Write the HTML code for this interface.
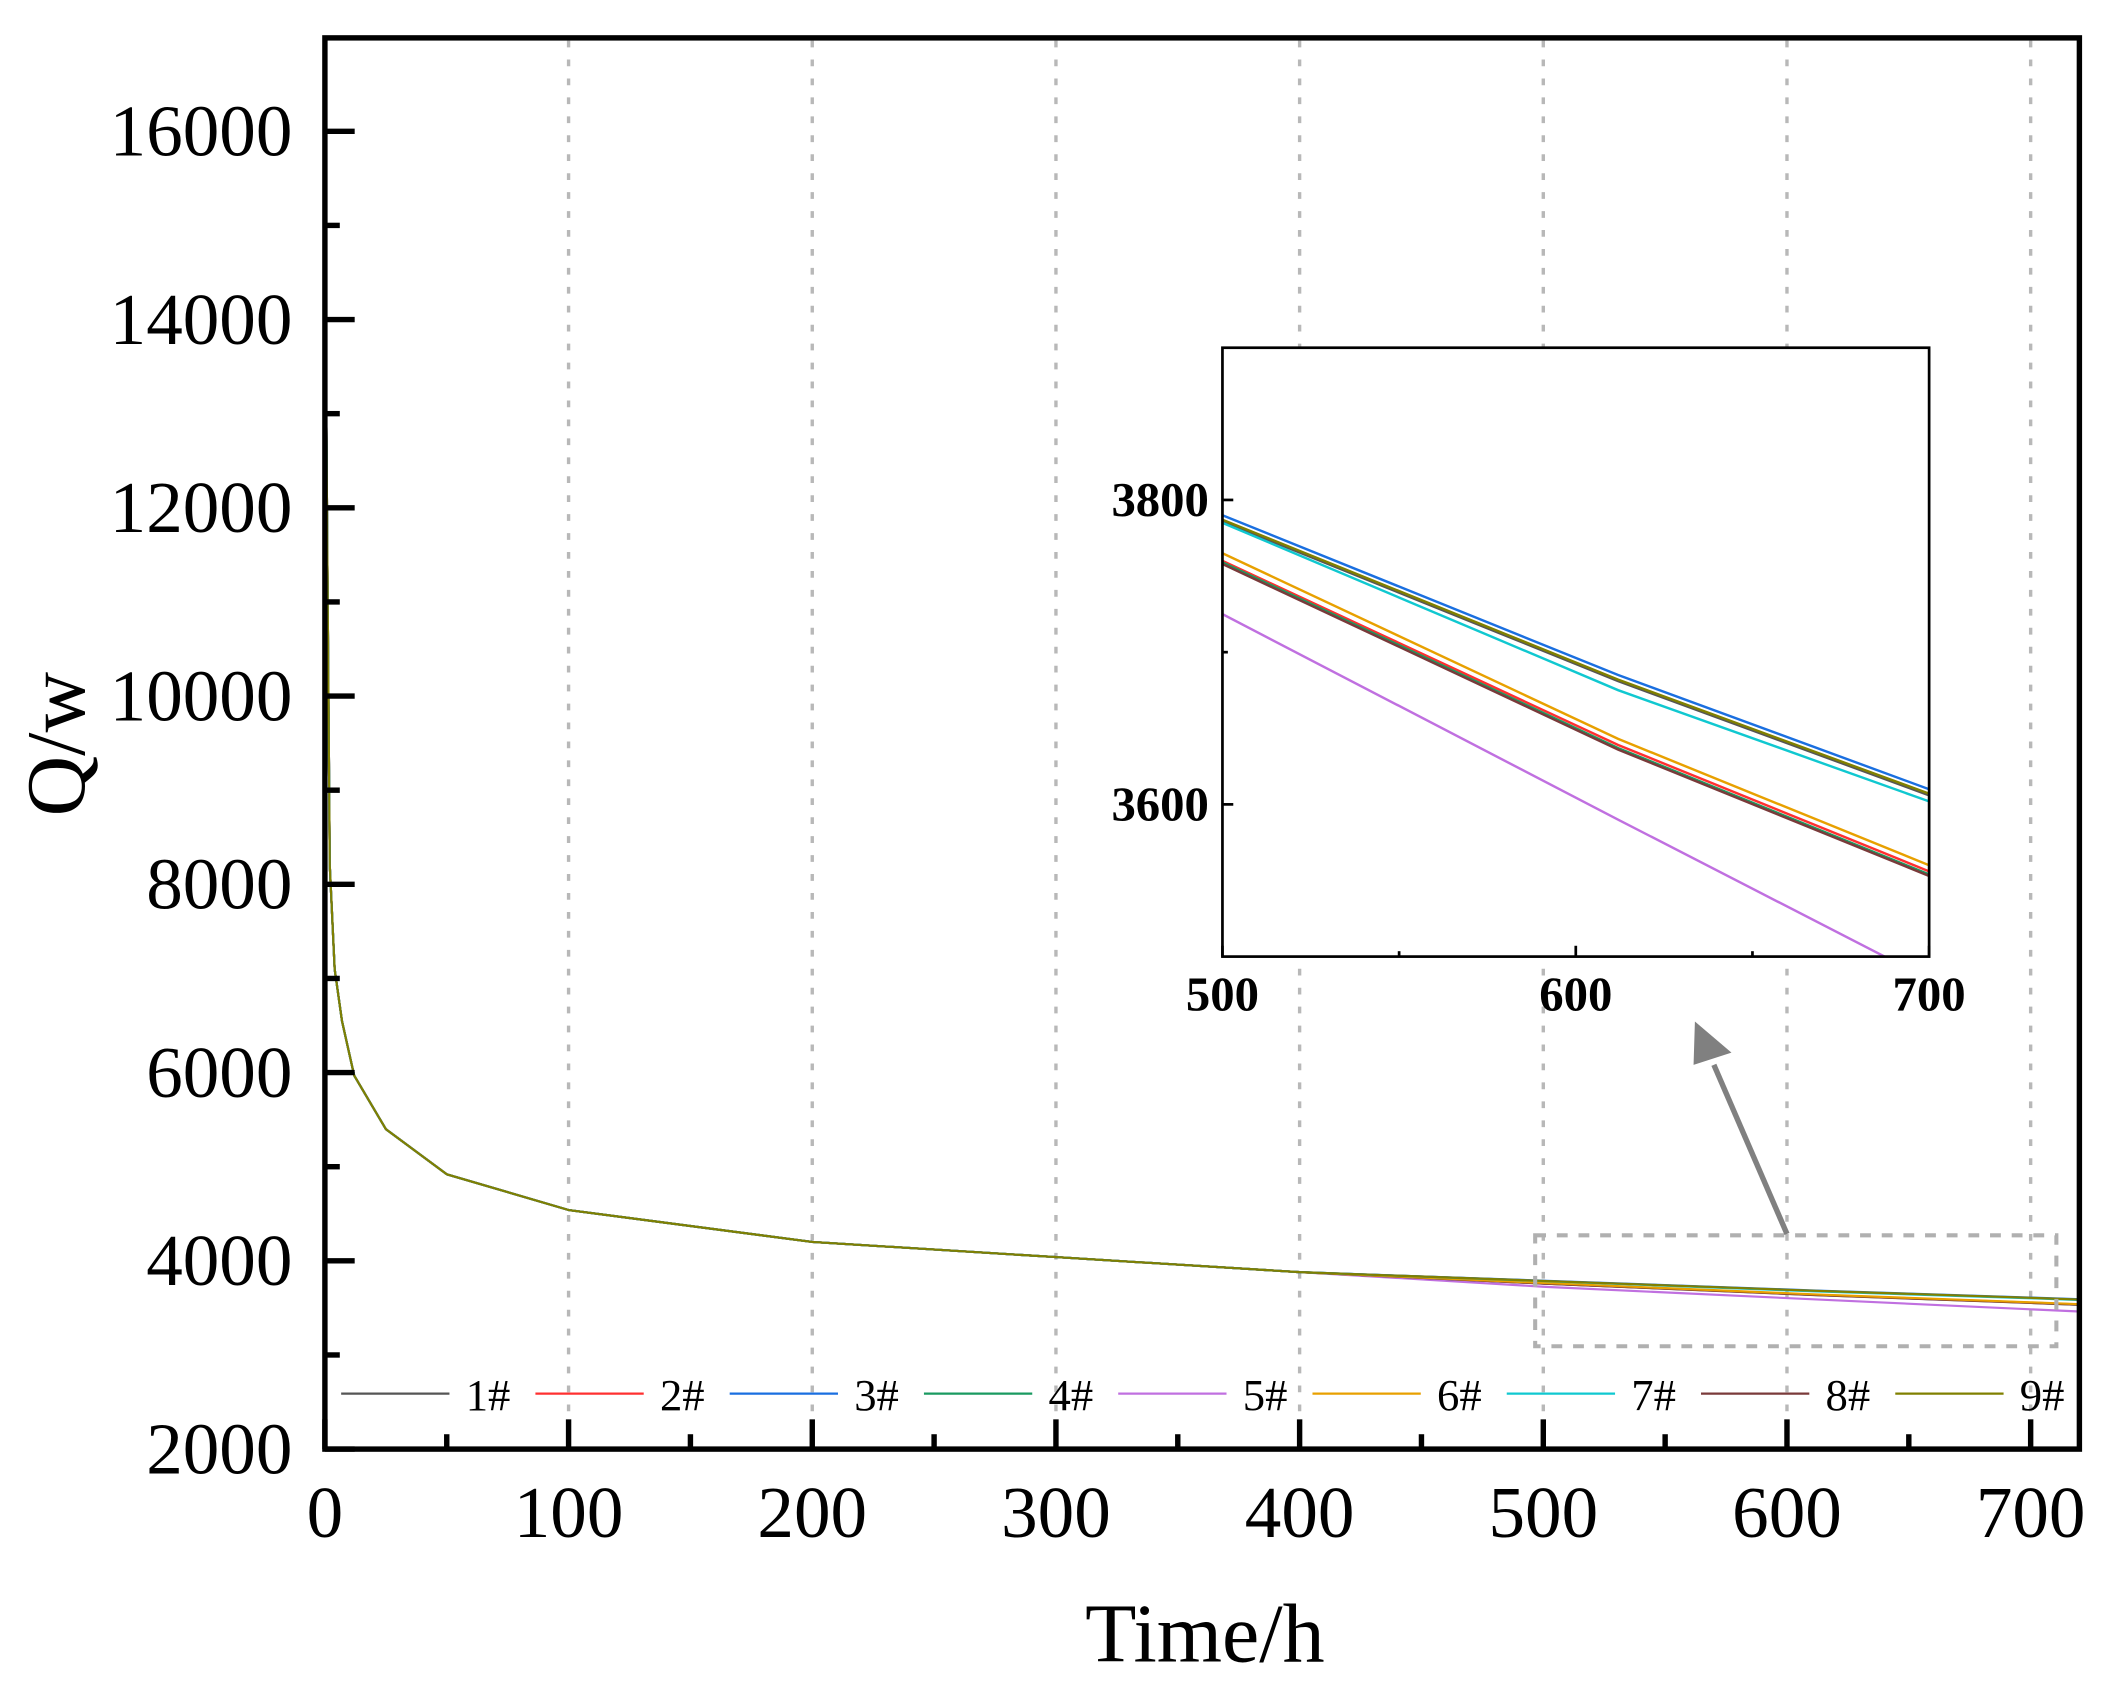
<!DOCTYPE html>
<html><head><meta charset="utf-8">
<style>html,body{margin:0;padding:0;background:#fff}svg{display:block}</style>
</head><body>
<svg id="s" width="2120" height="1694" viewBox="0 0 1566 1252" preserveAspectRatio="none" xmlns="http://www.w3.org/2000/svg" font-family="Liberation Serif, serif">
<rect width="1566" height="1252" fill="#fff"/>
<g id="grid" stroke="#b8b8b8" stroke-width="2.5" stroke-dasharray="5,9"></g>
<g id="main" fill="none" stroke-width="1.6" stroke-linejoin="round"></g>
<rect x="1134" y="913" width="385" height="82" fill="none" stroke="#b0b0b0" stroke-width="3" stroke-dasharray="8,8"/>
<g id="leg" font-size="33"></g>
<rect x="240" y="28" width="1296" height="1043" fill="none" stroke="#000" stroke-width="4"/>
<g id="ticks" stroke="#000" stroke-width="4"></g>
<g id="lbl" font-size="54" fill="#000"></g>
<text x="890" y="1228" font-size="62" text-anchor="middle">Time/h</text>
<text transform="translate(62,550) rotate(-90)" font-size="62" text-anchor="middle">Q/w</text>
<rect x="903" y="257" width="522" height="450" fill="#fff"/>
<defs><clipPath id="cp"><rect x="903" y="257" width="522" height="450"/></clipPath></defs>
<g id="ins" fill="none" stroke-width="1.8" clip-path="url(#cp)"></g>
<rect x="903" y="257" width="522" height="450" fill="none" stroke="#000" stroke-width="2"/>
<g id="iticks" stroke="#000" stroke-width="2"></g>
<g id="ilbl" font-size="36" font-weight="bold" fill="#000"></g>
<line x1="1320" y1="912" x2="1266" y2="787" stroke="#808080" stroke-width="4"/>
<polygon points="1252,755 1251,787 1279,778" fill="#808080"/>
</svg>
<script>
const NS="http://www.w3.org/2000/svg";
function el(p,t,a,txt){const e=document.createElementNS(NS,t);for(const k in a)e.setAttribute(k,a[k]);if(txt!=null)e.textContent=txt;document.getElementById(p).appendChild(e);return e;}
const X=t=>240+t*1.8, Y=v=>1071-(v-2000)*139.14/2000;
for(let t=100;t<=700;t+=100) el('grid','line',{x1:X(t),y1:30,x2:X(t),y2:1069});
for(let t=0;t<=720;t+=50){const maj=t%100==0;el('ticks','line',{x1:X(t),y1:1071,x2:X(t),y2:1071-(maj?22:11)});if(maj)el('lbl','text',{x:X(t),y:1136,'text-anchor':'middle'},t);}
for(let v=2000;v<=16500;v+=1000){const maj=v%2000==0;el('ticks','line',{x1:240,y1:Y(v),x2:240+(maj?22:11),y2:Y(v)});if(maj)el('lbl','text',{x:216,y:Y(v)+18,'text-anchor':'end'},v);}
const cols=['#555555','#ff3030','#1a6fe0','#1a9a60','#c070e0','#e8a000','#10c8d0','#7a3a3a','#808000'];
const tail=[[3786,3681,3606,3588],[3760,3639,3556,3536],[3790,3685,3610,3592],[3759,3637,3554,3534],[3725,3590,3485,3462],[3765,3643,3560,3540],[3785,3675,3602,3584],[3758,3636,3553,3533],[3787,3682,3607,3589]];
const head=[[0,15100],[1,11500],[2,8200],[4,7100],[7,6550],[12,5970],[25,5400],[50,4920],[100,4540],[200,4200],[300,4040],[400,3880]];
const order=[4,1,3,7,0,5,6,2,8];
order.forEach(i=>{const pts=head.concat([[500,tail[i][0]],[612,tail[i][1]],[700,tail[i][2]],[720,tail[i][3]]]);
 el('main','path',{d:'M'+pts.map(p=>X(p[0]).toFixed(1)+','+Y(p[1]).toFixed(1)).join('L'),stroke:cols[i]});
 const IX=t=>903+(t-500)*2.61, IY=v=>707-(v-3500)*1.125;
 const ip=[[500,tail[i][0]],[612,tail[i][1]],[700,tail[i][2]]];
 el('ins','path',{d:'M'+ip.map(p=>IX(p[0]).toFixed(1)+','+IY(p[1]).toFixed(1)).join('L'),stroke:cols[i]});
});
for(let i=0;i<9;i++){const x0=252+i*143.5;el('leg','line',{x1:x0,y1:1030,x2:x0+80,y2:1030,stroke:cols[i],'stroke-width':1.6});el('leg','text',{x:x0+92,y:1042},(i+1)+'#');}
[[500,1],[550,0],[600,1],[650,0],[700,1]].forEach(([t,m])=>{const x=903+(t-500)*2.61;el('iticks','line',{x1:x,y1:707,x2:x,y2:707-(m?8:4)});if(m)el('ilbl','text',{x:x,y:747,'text-anchor':'middle'},t);});
[[3600,1],[3700,0],[3800,1]].forEach(([v,m])=>{const y=707-(v-3500)*1.125;el('iticks','line',{x1:903,y1:y,x2:903+(m?8:4),y2:y});if(m)el('ilbl','text',{x:893,y:y+12,'text-anchor':'end'},v);});
</script>
</body></html>
